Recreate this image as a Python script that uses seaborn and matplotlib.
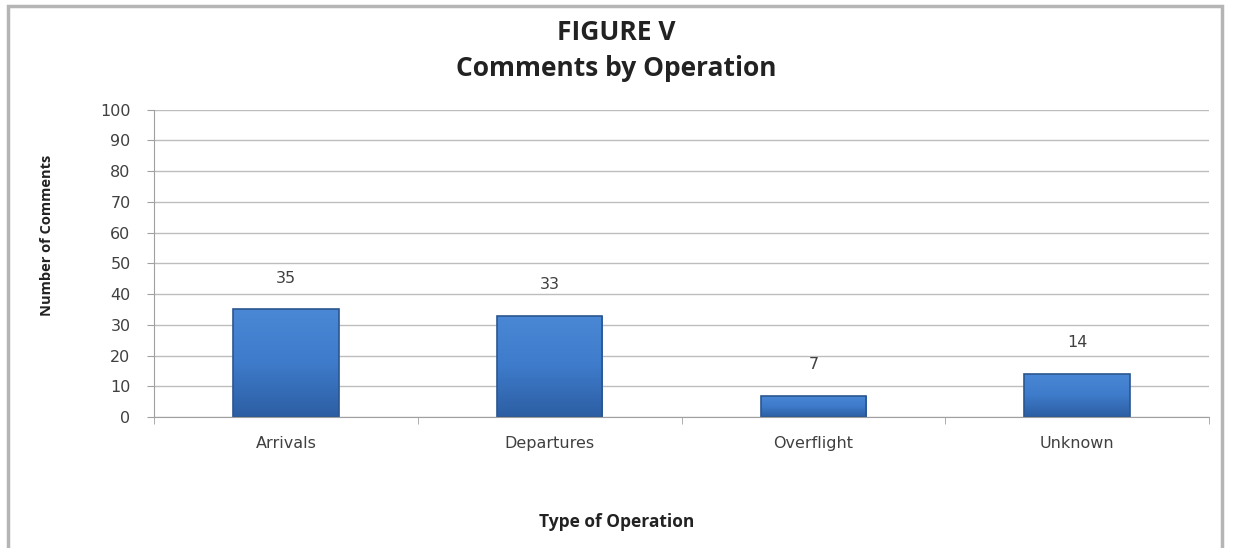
import matplotlib
matplotlib.use("Agg")
import matplotlib.pyplot as plt
import matplotlib.patches as patches
from matplotlib.colors import LinearSegmentedColormap
import numpy as np
import seaborn as sns
import pandas as pd

operations = ["Arrivals", "Departures", "Overflight", "Unknown"]
comments = [35, 33, 7, 14]

df = pd.DataFrame({"operation": operations, "comments": comments})

sns.set_style("white")
plt.rcParams["font.family"] = ["Open Sans", "DejaVu Sans"]

fig = plt.figure(figsize=(12.33, 5.48), dpi=100)
ax = fig.add_axes([0.125, 0.239, 0.8555, 0.561])

sns.barplot(data=df, x="operation", y="comments", color="#3b74c2",
            width=0.4, saturation=1, edgecolor="#2b5690", linewidth=1.2, ax=ax)

# vertical gradient on each bar, clipped to the bar patch
grad = LinearSegmentedColormap.from_list("bar", ["#2c5ea3", "#3e7bca", "#4a88d6"])
g = np.linspace(0, 1, 256).reshape(-1, 1)
for p in ax.patches:
    x0, y0, w, h = p.get_x(), p.get_y(), p.get_width(), p.get_height()
    im = ax.imshow(g, cmap=grad, origin="lower", aspect="auto",
                   extent=(x0, x0 + w, y0, y0 + h), zorder=p.get_zorder())
    im.set_clip_path(p)
    p.set_zorder(p.get_zorder() + 0.1)
    p.set_facecolor("none")

for p, v in zip(ax.patches, comments):
    ax.annotate(str(v), (p.get_x() + p.get_width() / 2, v), xytext=(0, 17),
                textcoords="offset points", ha="center", va="bottom",
                fontsize=11.5, color="#404040", family="DejaVu Sans")

ax.set_ylim(0, 100)
ax.set_xlim(-0.5, 3.5)
ax.set_yticks(range(0, 101, 10))
ax.yaxis.grid(True, color="#bdbdbd", linewidth=1)
ax.set_axisbelow(True)
for s in ["top", "right"]:
    ax.spines[s].set_visible(False)
ax.spines["left"].set_color("#a0a0a0")
ax.spines["bottom"].set_color("#a0a0a0")
ax.tick_params(axis="y", length=5, color="#a0a0a0", labelsize=11.5, labelcolor="#404040",
               left=True, pad=12)
ax.tick_params(axis="x", which="major", length=0, labelsize=11.5, labelcolor="#404040", pad=14)
ax.set_xticks([-0.5, 0.5, 1.5, 2.5, 3.5], minor=True)
ax.tick_params(axis="x", which="minor", length=5, color="#a0a0a0", bottom=True)
for lab in ax.get_xticklabels() + ax.get_yticklabels():
    lab.set_family("DejaVu Sans")

ax.set_xlabel("")
ax.set_ylabel("")
fig.text(0.5, 0.048, "Type of Operation", ha="center", va="center",
         fontsize=12.5, fontweight="bold", color="#222222")
fig.text(0.038, 0.57, "Number of Comments", ha="center", va="center",
         rotation=90, fontsize=10.5, fontweight="bold", color="#222222",
         fontstretch="condensed")
fig.text(0.5, 0.94, "FIGURE V", ha="center", va="center",
         fontsize=19, fontweight="bold", color="#222222")
fig.text(0.5, 0.875, "Comments by Operation", ha="center", va="center",
         fontsize=19, fontweight="bold", color="#222222")

frame = patches.Rectangle((8 / 1233, -0.05), 1222 / 1233 - 8 / 1233, 1.05 - 6 / 548,
                          transform=fig.transFigure, fill=False,
                          edgecolor="#b5b5b5", linewidth=2.5)
fig.add_artist(frame)

fig.savefig("out.png", dpi=100, facecolor="white")
